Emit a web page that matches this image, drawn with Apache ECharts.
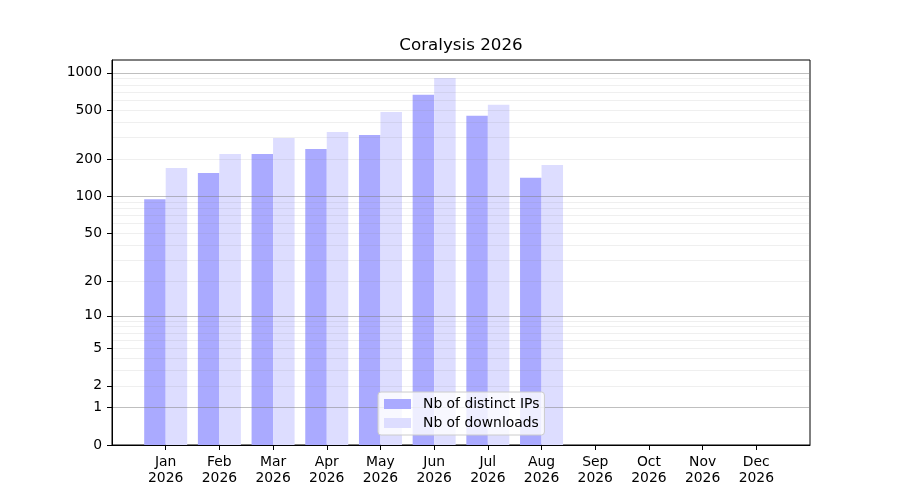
<!DOCTYPE html>
<html lang="en">
<head>
    <meta charset="UTF-8">
    <title>Coralysis 2026</title>
    <script src="https://cdn.jsdelivr.net/npm/echarts@6/dist/echarts.min.js"></script>
    <style>
        html, body { margin: 0; padding: 0; background: #fff; }
        #chart { width: 900px; height: 500px; }
    </style>
</head>
<body>
<div id="chart"></div>
<script>
    // 数据
    var months = ['Jan', 'Feb', 'Mar', 'Apr', 'May', 'Jun', 'Jul', 'Aug', 'Sep', 'Oct', 'Nov', 'Dec'];
    var year = '2026';
    var distinctIPs = [95, 155, 221, 243, 315, 665, 450, 142];
    var downloads = [170, 221, 298, 333, 484, 911, 552, 180];
    var yTicks = [0, 1, 2, 5, 10, 20, 50, 100, 200, 500, 1000];
    var majorGrid = [1, 10, 100, 1000];
    var minorGrid = [2, 3, 4, 5, 6, 7, 8, 9, 20, 30, 40, 50, 60, 70, 80, 90, 200, 300, 400, 500, 600, 700, 800, 900];
    var yTop = 1270;

    // y轴刻度: log10(1 + x)
    function fwd(v) { return Math.log10(1 + v); }
    function inv(t) { return Math.round(Math.pow(10, t) - 1); }

    function toPairs(arr) {
        return arr.map(function (v, i) { return [i, fwd(v)]; });
    }

    var font = 'DejaVu Sans';
    var yMax = fwd(yTop);

    function gridAxis(values, color) {
        return {
            type: 'value', min: 0, max: yMax, position: 'left', z: 3,
            axisLine: {show: false, onZero: false},
            axisLabel: {show: false},
            axisTick: {show: false, customValues: values.map(fwd)},
            splitLine: {show: true, lineStyle: {color: color, width: 1}}
        };
    }

    var myChart = echarts.init(document.getElementById('chart'));
    myChart.setOption({
        animation: false,
        title: {
            text: 'Coralysis 2026',
            left: 461, top: 37, padding: 0, textAlign: 'center',
            textStyle: {fontFamily: font, fontSize: 16.7, fontWeight: 'normal', color: '#000'}
        },
        grid: {
            left: 112, right: 90, top: 60, bottom: 55,
            show: true, borderColor: '#000', borderWidth: 1, backgroundColor: '#fff'
        },
        legend: {
            orient: 'vertical',
            left: 378, top: 392,
            padding: [5, 5, 5, 6],
            itemWidth: 27, itemHeight: 10, itemGap: 5,
            icon: 'rect',
            backgroundColor: 'rgba(255,255,255,0.8)',
            borderColor: '#cccccc', borderWidth: 1, borderRadius: 3,
            textStyle: {fontFamily: font, fontSize: 13.9, color: '#000', padding: [0, 0, 0, 7]},
            data: ['Nb of distinct IPs', 'Nb of downloads']
        },
        xAxis: {
            type: 'value', min: -1, max: 12,
            axisLine: {onZero: false, lineStyle: {color: '#000'}},
            axisTick: {length: 5, lineStyle: {color: '#000'}, customValues: months.map(function (m, i) { return i; })},
            axisLabel: {
                customValues: months.map(function (m, i) { return i; }),
                margin: 9, lineHeight: 16.5,
                fontFamily: font, fontSize: 13.9, color: '#000',
                formatter: function (v) { return months[v] + '\n' + year; }
            },
            splitLine: {show: false}
        },
        yAxis: [
            {
                type: 'value', min: 0, max: yMax, position: 'left', z: 4,
                axisLine: {show: true, onZero: false, lineStyle: {color: '#000'}},
                axisTick: {show: true, length: 5, lineStyle: {color: '#000'}, customValues: yTicks.map(fwd)},
                axisLabel: {
                    customValues: yTicks.map(fwd),
                    margin: 10, fontFamily: font, fontSize: 13.9, color: '#000',
                    formatter: function (v) { return String(inv(v)); }
                },
                splitLine: {show: false}
            },
            gridAxis(minorGrid, 'rgba(128,128,128,0.13)'),
            gridAxis(majorGrid, 'rgba(128,128,128,0.5)')
        ],
        series: [
            {
                name: 'Nb of distinct IPs', type: 'bar',
                barWidth: 21.5, barGap: '0%',
                itemStyle: {color: '#aaaaff'},
                data: toPairs(distinctIPs)
            },
            {
                name: 'Nb of downloads', type: 'bar',
                barWidth: 21.5, barGap: '0%',
                itemStyle: {color: '#ddddff'},
                data: toPairs(downloads)
            }
        ]
    });
</script>
</body>
</html>
